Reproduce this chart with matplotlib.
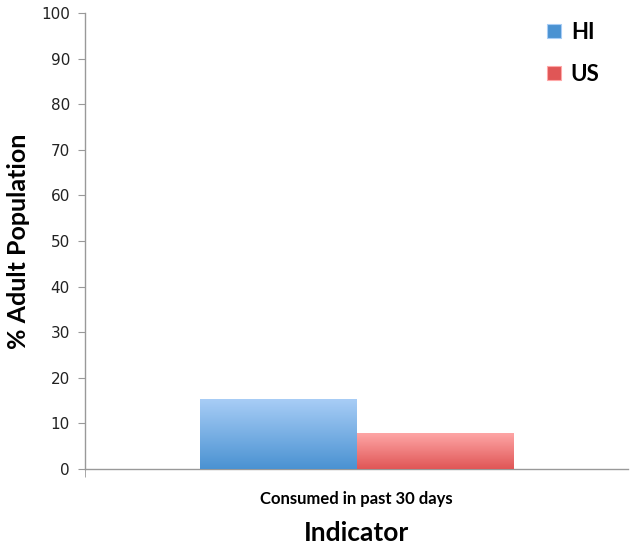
import matplotlib
matplotlib.use("Agg")
import matplotlib.pyplot as plt
import numpy as np
from matplotlib.colors import LinearSegmentedColormap

CATEGORIES = ["Consumed in past 30 days"]
SERIES = ["HI", "US"]
VALUES = {
    "HI": [15.3],
    "US": [7.9],
}
YTICKS = list(range(0, 101, 10))

# gradient (top colour, bottom colour) for each series
GRADIENTS = {
    "HI": ("#a8cdf6", "#4a92d2"),
    "US": ("#ffa8a8", "#e05656"),
}

LABEL_FONT = ["Lato", "Open Sans", "DejaVu Sans"]


def gradient_bar(ax, bar, top_color, bottom_color):
    x0, y0 = bar.get_x(), bar.get_y()
    w, h = bar.get_width(), bar.get_height()
    cmap = LinearSegmentedColormap.from_list("g", [bottom_color, top_color])
    grad = np.linspace(0, 1, 256).reshape(-1, 1)
    img = ax.imshow(grad, cmap=cmap, origin="lower", aspect="auto",
                    extent=(x0, x0 + w, y0, y0 + h), zorder=3)
    img.set_clip_path(bar)
    bar.set_facecolor("none")


def main():
    plt.rcParams["font.family"] = ["DejaVu Sans"]
    fig = plt.figure(figsize=(6.31, 5.46), dpi=100)
    ax = fig.add_axes([0.135, 0.141, 0.86, 0.835])

    x = np.arange(len(CATEGORIES), dtype=float)
    width = 0.578
    handles = []
    for i, name in enumerate(SERIES):
        offs = (i - 0.5) * width
        bars = ax.bar(x + offs, VALUES[name], width=width, linewidth=0,
                      zorder=3, label=name)
        top, bottom = GRADIENTS[name]
        for b in bars:
            gradient_bar(ax, b, top, bottom)
        h = plt.Rectangle((0, 0), 1, 1, facecolor=bottom, edgecolor=top, linewidth=0.8)
        handles.append(h)

    ax.set_xlim(-1, 1)
    ax.set_ylim(0, 100)
    ax.set_yticks(YTICKS)
    ax.set_yticklabels([str(t) for t in YTICKS], fontsize=11, color="#222222")
    ax.set_xticks(x)
    ax.set_xticklabels(CATEGORIES, fontsize=12, fontweight="bold", family=LABEL_FONT)
    ax.tick_params(axis="x", length=0, pad=16)
    ax.set_xticks([-1], minor=True)
    ax.tick_params(axis="x", which="minor", length=6, color="#999999", direction="out")
    ax.tick_params(axis="y", length=5, color="#999999", direction="out", pad=6)

    for s in ["top", "right"]:
        ax.spines[s].set_visible(False)
    for s in ["left", "bottom"]:
        ax.spines[s].set_color("#999999")
        ax.spines[s].set_linewidth(1.0)

    ax.set_ylabel("% Adult Population", fontsize=18, fontweight="bold",
                  family=LABEL_FONT, labelpad=8)
    ax.set_xlabel("Indicator", fontsize=19, fontweight="bold",
                  family=LABEL_FONT, labelpad=10)

    ax.legend(handles, SERIES, loc="upper right", bbox_to_anchor=(0.985, 1.025),
              frameon=False, handlelength=0.6, handleheight=0.6, handletextpad=0.45,
              labelspacing=0.95, prop={"family": LABEL_FONT, "weight": "bold", "size": 16})

    fig.savefig("out.png", dpi=100)


if __name__ == "__main__":
    main()
